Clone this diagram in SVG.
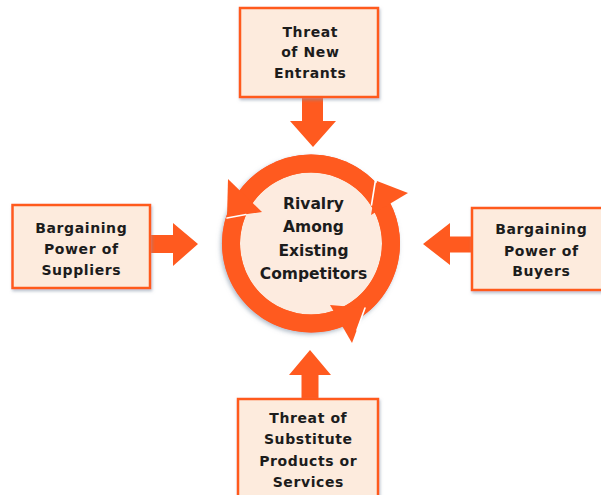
<svg xmlns="http://www.w3.org/2000/svg" width="601" height="495" viewBox="0 0 601 495">
<defs>
<filter id="sh" x="-15%" y="-15%" width="135%" height="135%">
<feDropShadow dx="1" dy="2" stdDeviation="1.8" flood-color="#7d8fa3" flood-opacity="0.55"/>
</filter>
<filter id="shr" x="-15%" y="-15%" width="135%" height="135%">
<feDropShadow dx="-1.5" dy="2" stdDeviation="2" flood-color="#7d8fa3" flood-opacity="0.6"/>
</filter>
</defs>
<style>
.box{fill:#FDEBDD;stroke:#FF5A1F;stroke-width:2.5}
.t{font-family:"DejaVu Sans","Liberation Sans",Arial,sans-serif;font-weight:bold;font-size:14px;fill:#1c1c1c;text-anchor:middle;letter-spacing:0.6px}
.tc{font-size:15.5px;letter-spacing:0px}
.arr{fill:#FF5A1F}
.ring{fill:none;stroke:#FF5A1F;stroke-width:18}
.gap{stroke:#ffffff;stroke-width:1.6;fill:none;stroke-linecap:round}
</style>
<rect width="601" height="495" fill="#ffffff"/>

<g id="rivalry">
<g filter="url(#shr)">
<circle cx="311" cy="243.5" r="89" fill="#FF5A1F"/>
</g>
<circle cx="311" cy="243.5" r="71" fill="#FDEBDF"/>
<path class="ring" d="M381.3,205.3 A80,80 0 0 0 241.0,204.7"/>
<path class="ring" d="M240.4,205.9 A80,80 0 0 0 344.2,316.3"/>
<path class="ring" d="M344.8,316.0 A80,80 0 0 0 381.6,205.9"/>
<polygon class="arr" points="228,179 262,212 227,217"/>
<polygon class="arr" points="377,181 408,193 371,215"/>
<polygon class="arr" points="330,305 365,308 352,343"/>
<line class="gap" x1="227" y1="218" x2="246" y2="214.5"/>
<line class="gap" x1="376" y1="177" x2="371.5" y2="205"/>
<line class="gap" x1="365" y1="308" x2="357" y2="330"/>
<text class="t tc" x="313.5" y="208.8">Rivalry</text>
<text class="t tc" x="313.5" y="232.3">Among</text>
<text class="t tc" x="313.5" y="255.8">Existing</text>
<text class="t tc" x="313.5" y="279.3">Competitors</text>
</g>

<g id="connectors">
<polygon class="arr" points="302,96 323,96 323,121 336,121 313,147 290,121 302,121"/>
<polygon class="arr" points="150,235 173,235 173,223 198,244 173,266 173,253 150,253"/>
<polygon class="arr" points="472,236.5 450,236.5 450,223 423,244 450,265 450,252.5 472,252.5"/>
<polygon class="arr" points="301.5,399 301.5,375 289,375 310,350 331,375 318.5,375 318.5,399"/>
</g>

<g id="new-entrants">
<rect class="box" x="240" y="8" width="138" height="89" filter="url(#sh)"/>
<text class="t" x="310.3" y="36.7">Threat</text>
<text class="t" x="310.3" y="57.4">of New</text>
<text class="t" x="310.3" y="78.2">Entrants</text>
</g>

<g id="suppliers">
<rect class="box" x="12.5" y="205" width="137.5" height="83" filter="url(#sh)"/>
<text class="t" x="81.3" y="232.7">Bargaining</text>
<text class="t" x="81.3" y="254">Power of</text>
<text class="t" x="81.3" y="275.2">Suppliers</text>
</g>

<g id="buyers">
<rect class="box" x="472" y="208" width="140" height="82" filter="url(#sh)"/>
<text class="t" x="541.3" y="234.3">Bargaining</text>
<text class="t" x="541.3" y="255.5">Power of</text>
<text class="t" x="541.3" y="276">Buyers</text>
</g>

<g id="substitutes">
<rect class="box" x="238" y="399" width="140" height="110" filter="url(#sh)"/>
<text class="t" x="308.3" y="422.5">Threat of</text>
<text class="t" x="308.3" y="444">Substitute</text>
<text class="t" x="308.3" y="465.5">Products or</text>
<text class="t" x="308.3" y="486.5">Services</text>
</g>
</svg>
